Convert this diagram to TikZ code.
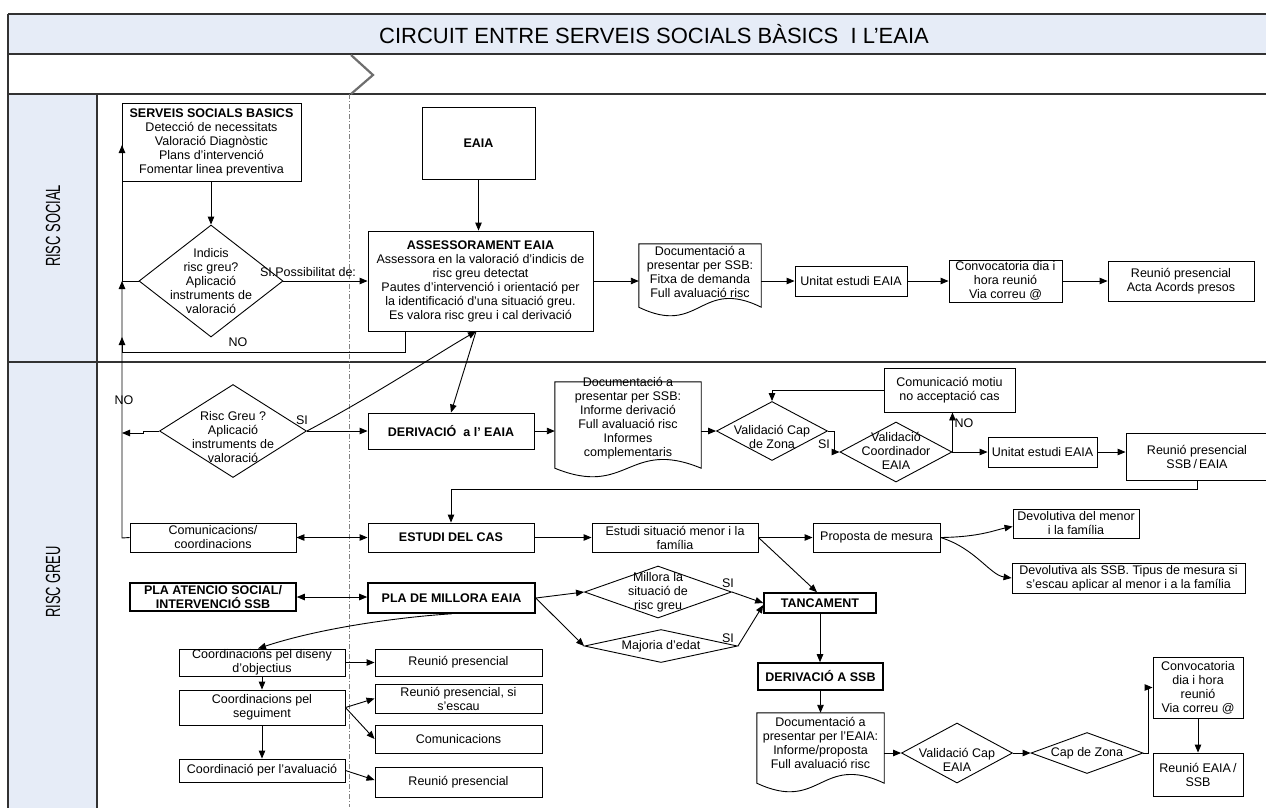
\documentclass[tikz,border=0pt]{standalone}
\usepackage{fontspec}
\setmainfont{Liberation Sans}
\usepackage{graphicx}
\usetikzlibrary{arrows.meta,shapes.geometric,calc}
\definecolor{bandblue}{RGB}{230,236,247}
\definecolor{framegray}{RGB}{50,50,50}
\definecolor{chevgray}{RGB}{110,110,110}
\newcommand\fs{\fontsize{12.5}{14}\selectfont}
\tikzset{
 box/.style={draw=black, line width=0.9pt, fill=white, inner xsep=1pt, inner ysep=0pt, align=center, font=\fs},
 tbox/.style={line width=1.6pt},
 dia/.style={draw=black, line width=0.9pt, diamond, inner sep=0pt},
 txt/.style={align=center, font=\fs, inner sep=0pt},
 lbl/.style={font=\fs, inner sep=1pt},
 docbase/.style={inner sep=0pt},
 docline/.style={draw=black, line width=0.9pt, fill=white},
 arr/.style={line width=0.9pt, -{Triangle[length=8pt,width=6.5pt]}},
 darr/.style={line width=0.9pt, {Triangle[length=8pt,width=6.5pt]}-{Triangle[length=8pt,width=6.5pt]}},
 frameline/.style={draw=framegray, line width=1.3pt},
}
% name x1 y1 x2 y2 text
\newcommand\mkbox[7][]{\node[box,#1,minimum width={#5-#3},minimum height={#6-#4}] (#2) at ({(#3+#5)/2},{(#4+#6)/2}) {#7};}
% name x1 y1 x2 yB texty text
\newcommand\mkdoc[7]{%
 \node[docbase,minimum width={#4-#2},minimum height={#5-#3}] (#1) at ({(#2+#4)/2},{(#3+#5)/2}) {};
 \draw[docline] (#1.north west) -- (#1.north east) -- (#1.south east) .. controls ({(#2+#4)/2},{#5-30}) and ({(#2+#4)/2},{#5+30}) .. (#1.south west) -- cycle;
 \node[txt] (#1t) at ({(#2+#4)/2},#6) {#7};}
% name cx cy w h texty text
\newcommand\mkdia[7]{%
 \node[dia,minimum width=#4,minimum height=#5] (#1) at (#2,#3) {};
 \node[txt] (#1t) at (#2,#6) {#7};}
\begin{document}
\begin{tikzpicture}[x=1pt,y=-1pt]
\useasboundingbox (0,0) rectangle (1266,807);
\clip (0,0) rectangle (1266,807);
% background frame
\fill[bandblue] (8,14) rectangle (1272,54);
\fill[bandblue] (8,94) rectangle (97,812);
\draw[frameline] (8,14) -- (1272,14);
\draw[frameline] (8,54) -- (1272,54);
\draw[frameline] (8,94) -- (1272,94);
\draw[frameline] (8,362) -- (1272,362);
\draw[frameline] (8,14) -- (8,812);
\draw[frameline] (97,94) -- (97,812);
\node[font=\fontsize{22}{24}\selectfont, inner sep=0pt] (title) at (654,34) {CIRCUIT ENTRE SERVEIS SOCIALS BÀSICS\ \ I L'EAIA};
\node[rotate=90, inner sep=0pt] (lane1) at (53,226) {\scalebox{0.63}[1]{\fontsize{20.5}{20.5}\selectfont RISC SOCIAL}};
\node[rotate=90, inner sep=0pt] (lane2) at (53,582) {\scalebox{0.63}[1]{\fontsize{20.5}{20.5}\selectfont RISC GREU}};
\draw[chevgray, line width=2.2pt] (351,55) -- (373,75) -- (351,94);
\draw[gray, line width=1pt, dash pattern=on 5pt off 2pt on 1pt off 2pt] (349,94) -- (349,807);

% RISC SOCIAL lane
\mkbox{ssb}{122}{103}{301}{181}{\textbf{SERVEIS SOCIALS BASICS}\\Detecció de necessitats\\Valoració Diagnòstic\\Plans d'intervenció\\Fomentar linea preventiva}
\mkbox{eaia}{422}{107}{535}{179}{\textbf{EAIA}}
\mkbox{ass}{368}{231}{593}{331}{\textbf{ASSESSORAMENT EAIA}\\Assessora en la valoració d'indicis de\\risc greu detectat\\Pautes d'intervenció i orientació per\\la identificació d'una situació greu.\\Es valora risc greu i cal derivació}
\mkdoc{doc1}{639}{244}{761}{307}{272}{Documentació a\\presentar per SSB:\\Fitxa de demanda\\Full avaluació risc}
\mkbox{un1}{795}{266}{907}{296}{Unitat estudi EAIA}
\mkbox{conv1}{949}{260}{1062}{302}{Convocatoria dia i\\hora reunió\\Via correu @}
\mkbox{reun1}{1108}{261}{1254}{301}{Reunió presencial\\Acta Acords presos}
\mkdia{d1}{211}{281}{144}{112}{281}{Indicis\\risc greu?\\Aplicació\\instruments de\\valoració}

% RISC GREU lane
\mkdia{d2}{233}{431}{147}{93}{437}{Risc Greu ?\\Aplicació\\instruments de\\valoració}
\mkbox{der}{368}{413}{534}{449}{\textbf{DERIVACIÓ\ \ a l' EAIA}}
\mkdoc{doc2}{555}{382}{701}{468}{418}{Documentació a\\presentar per SSB:\\Informe derivació\\Full avaluació risc\\Informes\\complementaris}
\mkdia{d3}{772}{431}{111}{59}{437}{Validació Cap\\de Zona}
\mkdia{d4}{896}{452}{112}{60}{451}{Validació\\Coordinador\\EAIA}
\mkbox{com}{884}{368}{1015}{412}{Comunicació motiu\\no acceptació cas}
\mkbox{un2}{988}{437}{1097}{467}{Unitat estudi EAIA}
\mkbox{reun2}{1126}{433}{1268}{480}{Reunió presencial\\SSB\,/\,EAIA}
\mkbox{comm}{130}{523}{296}{552}{Comunicacions/\\coordinacions}
\mkbox{est}{368}{523}{534}{552}{\textbf{ESTUDI DEL CAS}}
\mkbox{sit}{592}{523}{758}{552}{Estudi situació menor i la\\família}
\mkbox{prop}{813}{523}{940}{552}{Proposta de mesura}
\mkbox{dev1}{1013}{509}{1139}{538}{Devolutiva del menor\\i la família}
\mkbox{dev2}{1012}{563}{1245}{593}{Devolutiva als SSB. Tipus de mesura si\\s'escau aplicar al menor i a la família}
\mkbox[tbox]{plaA}{130}{583}{296}{611}{\textbf{PLA ATENCIO SOCIAL/}\\\textbf{INTERVENCIÓ SSB}}
\mkbox[tbox]{plaM}{368}{583}{535}{613}{\textbf{PLA DE MILLORA EAIA}}
\mkdia{d5}{658}{592}{147}{52}{592}{Millora la\\situació de\\risc greu}
\mkdia{d6}{661}{646}{153}{33}{646}{Majoria d'edat}
\mkbox[tbox]{tanc}{764}{593}{876}{613}{\textbf{TANCAMENT}}
\mkbox[tbox]{dA}{758}{663}{883}{690}{\textbf{DERIVACIÓ A SSB}}
\mkdoc{doc3}{757}{713}{884}{783}{743}{Documentació a\\presentar per l'EAIA:\\Informe/proposta\\Full avaluació risc}
\mkdia{d7}{957}{753}{111}{60}{760}{Validació Cap\\EAIA}
\mkdia{d8}{1087}{753}{112}{41}{753}{Cap de Zona}
\mkbox{conv2}{1153}{657}{1243}{718}{Convocatoria\\dia i hora\\reunió\\Via correu @}
\mkbox{reun3}{1153}{753}{1243}{796}{Reunió EAIA\,/\\SSB}
\mkbox{cd1}{179}{649}{345}{676}{Coordinacions pel diseny\\d'objectius}
\mkbox{re1}{375}{649}{542}{676}{Reunió presencial}
\mkbox{cd2}{179}{690}{345}{725}{Coordinacions pel\\seguiment}
\mkbox{re2}{375}{684}{542}{713}{Reunió presencial, si\\s'escau}
\mkbox{com2}{375}{725}{542}{753}{Comunicacions}
\mkbox{cd3}{179}{759}{345}{782}{Coordinació per l'avaluació}
\mkbox{re3}{375}{767}{542}{797}{Reunió presencial}

% rail coordinates
\coordinate (r145) at (122,145);
\coordinate (r281) at (122,281);
\coordinate (r337) at (122,337);
\coordinate (r352) at (122,352);
\coordinate (a352) at (405,352);
\coordinate (r433) at (122,433);
\coordinate (s431) at (143,431);
\coordinate (s433) at (143,433);
\coordinate (r538) at (122,538);
\coordinate (ab) at ([xshift=-4.5pt]ass.south);

% connectors RISC SOCIAL
\draw[arr] (ssb.south -| d1.north) -- (d1.north);
\draw[arr] (d1.west) -- (r281) -- (r145);
\draw[arr] (d1.east) -- (d1.east -| ass.west);
\node[lbl] (lsi1) at (308,272) {SI.Possibilitat de:};
\draw[arr] (eaia.south) -- (eaia.south |- ass.north);
\draw[arr] (ass.south -| a352) -- (a352) -- (r352) -- (r337);
\node[lbl] (lno1) at (238,342) {NO};
\draw[arr] (ass.east) -- (ass.east -| doc1.west);
\draw[arr] (ass.east -| doc1.east) -- (un1.west);
\draw[arr] (un1.east) -- (conv1.west);
\draw[arr] (conv1.east) -- (reun1.west);

% connectors RISC GREU
\draw[arr] (comm.west) -- (r538) -- (r281);
\draw[arr] (d2.west) -- (s431) -- (s433) -- (r433);
\node[lbl] (lno2) at (124,400) {NO};
\draw[arr] (d2.east) -- (d2.east -| der.west);
\node[lbl] (lsi2) at (302,420) {SI};
\draw[arr] (d2.east) .. controls (375,395) and (440,352) .. (ab);
\draw[arr] (ab) -- (der.north);
\draw[arr] (der.east) -- (der.east -| doc2.west);
\draw[arr] (der.east -| doc2.east) -- (d3.west);
\draw[arr] (d3.east) -- ++(6,0) |- (d4.west);
\node[lbl] (lsi3) at (824,444) {SI};
\draw[arr] (d4.east) -- (d4.east |- com.south);
\node[lbl] (lno3) at (964,423) {NO};
\draw[arr] (com.west) -| (d3.north);
\draw[arr] (d4.east) -- (un2.west);
\draw[arr] (un2.east) -- (un2.east -| reun2.west);
\draw[arr] (reun2.south) -- ++(0,9) -| (est.north);
\draw[darr] (comm.east) -- (est.west);
\draw[arr] (est.east) -- (sit.west);
\draw[arr] (sit.east) -- (prop.west);
\draw[arr] (sit.east) -- ([xshift=-3pt]tanc.north);
\draw[arr] (prop.east) .. controls (980,537) and (995,530) .. ($(dev1.west)+(0,3)$);
\draw[arr] (prop.east) .. controls (975,548) and (990,575) .. (dev2.west);
\draw[darr] (plaA.east) -- (plaA.east -| plaM.west);
\draw[arr] (plaM.east) -- (d5.west);
\draw[arr] (plaM.east) -- (d6.west);
\draw[arr] (d5.east) -- (tanc.west);
\node[lbl] (lsi4) at (728,583) {SI};
\draw[arr] (d6.east) -- ($(tanc.west)+(0,2)$);
\node[lbl] (lsi5) at (728,638) {SI};
\draw[arr] (tanc.south) -- (tanc.south |- dA.north);
\draw[arr] (dA.south) -- (dA.south |- doc3.north);
\draw[arr] (d7.west -| doc3.east) -- (d7.west);
\draw[arr] (d7.east) -- (d8.west);
\draw[arr] (d8.east) -- ++(5,0) |- (conv2.west);
\draw[arr] (conv2.south) -- (reun3.north);
\draw[arr] (plaM.south) .. controls (400,617) and (320,628) .. ($(cd1.north)+(-4,0)$);
\draw[arr] (cd1.east) -- (re1.west);
\draw[arr] (cd1.south) -- (cd2.north);
\draw[arr] (cd2.east) -- (re2.west);
\draw[arr] (cd2.east) -- (com2.west);
\draw[arr] (cd2.south) -- (cd3.north);
\draw[arr] (cd3.east) -- ($(re3.west)+(0,-2)$);
\end{tikzpicture}
\end{document}
